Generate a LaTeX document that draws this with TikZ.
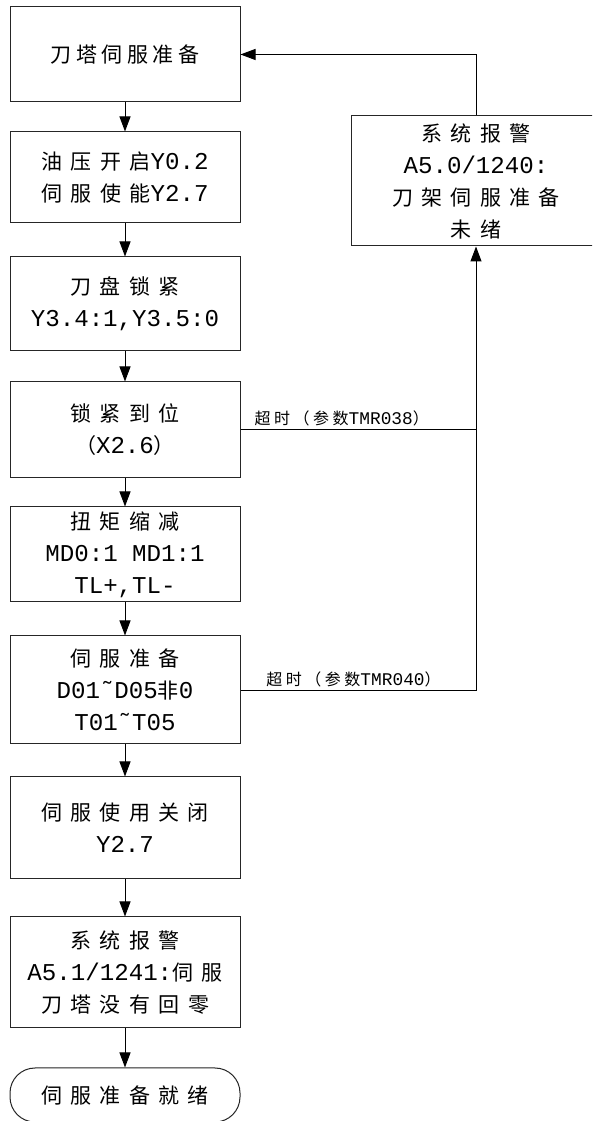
\documentclass[tikz,border=0pt]{standalone}
\usepackage{fontspec}
\setmainfont{Noto Sans CJK SC}[LetterSpace=40]
\newfontfamily\latf{Liberation Mono}[Scale=1.15]
\newcommand{\la}[1]{{\latf #1}}
\usetikzlibrary{arrows.meta}
\begin{document}
\begin{tikzpicture}[x=1pt,y=1pt,
  box/.style={draw=black!85, line width=1pt, minimum width=230pt, align=center,
    font=\fontsize{21}{32}\selectfont, inner sep=0pt},
  term/.style={box, rounded corners=25pt},
  arr/.style={-{Triangle[length=15pt,width=11pt]}, line width=1pt},
  ln/.style={line width=1pt},
  lab/.style={font=\fontsize{16}{18}\selectfont\addfontfeatures{LetterSpace=22}, inner sep=3pt}]
\clip (0,0) rectangle (592,1121);
\fill[white] (0,0) rectangle (592,1121);
% left column (y = 1121 - pixel y)
\node[box, minimum height=95pt, font=\fontsize{21}{32}\selectfont\addfontfeatures{LetterSpace=22}]  (b1) at (125,1066.5) {刀塔伺服准备};
\node[box, minimum height=91pt]  (b2) at (125,943.5) {油压开启\la{Y0.2}\\伺服使能\la{Y2.7}};
\node[box, minimum height=94pt]  (b3) at (125,817) {刀盘锁紧\\\la{Y3.4:1,Y3.5:0}};
\node[box, minimum height=96pt]  (b4) at (125,691) {锁紧到位\\（\la{X2.6}）};
\node[box, minimum height=95pt]  (b5) at (125,566.5) {扭矩缩减\\\la{MD0:1 MD1:1}\\\la{TL+,TL-}};
\node[box, minimum height=108pt] (b6) at (125,431) {伺服准备\\\la{D01˜D05}非\la{0}\\\la{T01˜T05}};
\node[box, minimum height=102pt] (b7) at (125,293) {伺服使用关闭\\\la{Y2.7}};
\node[box, minimum height=111pt] (b8) at (125,148.5) {系统报警\\\la{A5.1/1241:}伺服\\刀塔没有回零};
\node[term, minimum height=54pt] (t) at (125,26) {伺服准备就绪};
% right alarm box
\node[box, minimum width=250pt, minimum height=130pt] (r) at (476,940) {系统报警\\\la{A5.0/1240:}\\刀架伺服准备\\未绪};
% coordinates
\coordinate (j1) at (476,691);
\coordinate (j2) at (476,430);
\coordinate (j3) at (476,1066.5);
% main flow
\draw[arr] (b1) -- (b2);
\draw[arr] (b2) -- (b3);
\draw[arr] (b3) -- (b4);
\draw[arr] (b4) -- (b5);
\draw[arr] (b5) -- (b6);
\draw[arr] (b6) -- (b7);
\draw[arr] (b7) -- (b8);
\draw[arr] (b8) -- (t);
% timeouts
\draw[ln] (b4.east) -- node[lab, above, pos=0.43] {超时（参数{\fontsize{15.5}{18}\latf TMR038}）} (j1);
\draw[ln] (b6.east |- j2) -- node[lab, above, pos=0.48] {超时（参数{\fontsize{15.5}{18}\latf TMR040}）} (j2);
\draw[arr] (j2) -- (r.south);
\draw[arr] (r.north) -- (j3) -- (b1.east);
\end{tikzpicture}
\end{document}
